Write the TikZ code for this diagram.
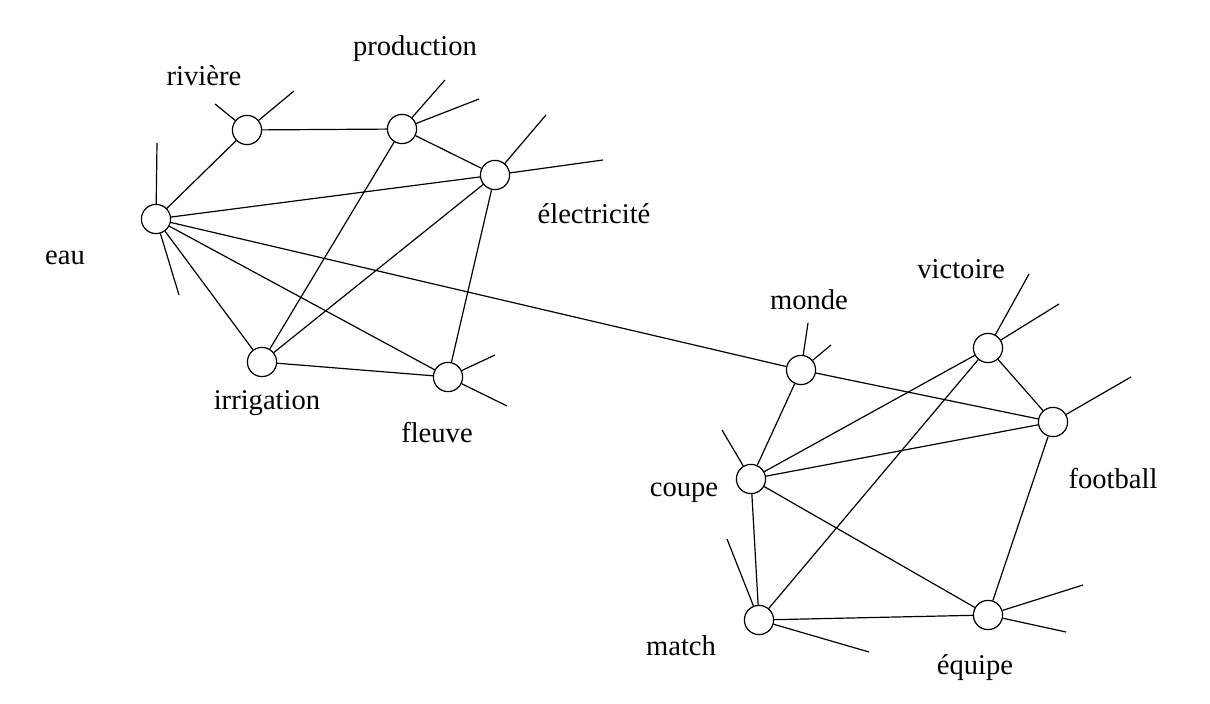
\documentclass[tikz,border=0pt]{standalone}
\usepackage{fontspec}
\setmainfont{Liberation Serif}
\usetikzlibrary{positioning}

\begin{document}
\begin{tikzpicture}[
    x=0.5pt, y=-0.5pt,
    line width=0.6pt,
    word/.style={draw, circle, fill=white, inner sep=0pt, minimum size=14.6pt},
    lbl/.style={anchor=base, inner sep=0pt, font=\fontsize{14.3}{16}\selectfont},
    edge/.style={draw, line width=0.6pt}
  ]
  \useasboundingbox (0,0) rectangle (1210,704);

  % ---- left cluster: eau ----
  \node[word] (eau)        at (156,219) {};
  \node[word] (riviere)    at (247,130) {};
  \node[word] (production) at (402,129) {};
  \node[word] (elec)       at (495,175) {};
  \node[word] (irrigation) at (262,362) {};
  \node[word] (fleuve)     at (448,377) {};

  % ---- right cluster: football ----
  \node[word] (monde)    at (801,370) {};
  \node[word] (victoire) at (988,348) {};
  \node[word] (football) at (1053,422) {};
  \node[word] (coupe)    at (751,479) {};
  \node[word] (match)    at (759,620) {};
  \node[word] (equipe)   at (988,615) {};

  % ---- labels ----
  \node[lbl] (eau-t)        at (65,265)   {eau};
  \node[lbl] (riviere-t)    at (204,86)   {rivière};
  \node[lbl] (production-t) at (415,56)   {production};
  \node[lbl] (elec-t)       at (594,224)  {électricité};
  \node[lbl] (irrigation-t) at (267,410)  {irrigation};
  \node[lbl] (fleuve-t)     at (437,443)  {fleuve};
  \node[lbl] (monde-t)      at (809,310)  {monde};
  \node[lbl] (victoire-t)   at (961,279)  {victoire};
  \node[lbl] (football-t)   at (1113,489) {football};
  \node[lbl] (coupe-t)      at (684,497)  {coupe};
  \node[lbl] (match-t)      at (681,656)  {match};
  \node[lbl] (equipe-t)     at (975,675)  {équipe};

  % ---- links ----
  \foreach \a/\b in {eau/riviere, eau/elec, eau/irrigation, eau/fleuve, eau/monde,
                     riviere/production, production/elec, production/irrigation,
                     elec/irrigation, elec/fleuve, irrigation/fleuve,
                     monde/football, monde/coupe, coupe/victoire, coupe/football,
                     coupe/match, coupe/equipe, victoire/football, victoire/match,
                     football/equipe, match/equipe}
    \path[edge] (\a) -- (\b);

  % ---- loose ends ----
  \foreach \n/\k/\x/\y in {eau/1/157/143, eau/2/179/295,
                           riviere/1/215/104, riviere/2/294/91,
                           production/1/445/80, production/2/479/99,
                           elec/1/546/115, elec/2/603/160,
                           fleuve/1/495/355, fleuve/2/507/406,
                           monde/1/808/323, monde/2/831/345,
                           coupe/1/722/430,
                           victoire/1/1029/274, victoire/2/1059/304,
                           football/1/1131/377,
                           match/1/727/539, match/2/869/652,
                           equipe/1/1083/585, equipe/2/1066/632}
  {
    \coordinate (\n-s\k) at (\x,\y);
    \path[edge] (\n) -- (\n-s\k);
  }

\end{tikzpicture}
\end{document}
